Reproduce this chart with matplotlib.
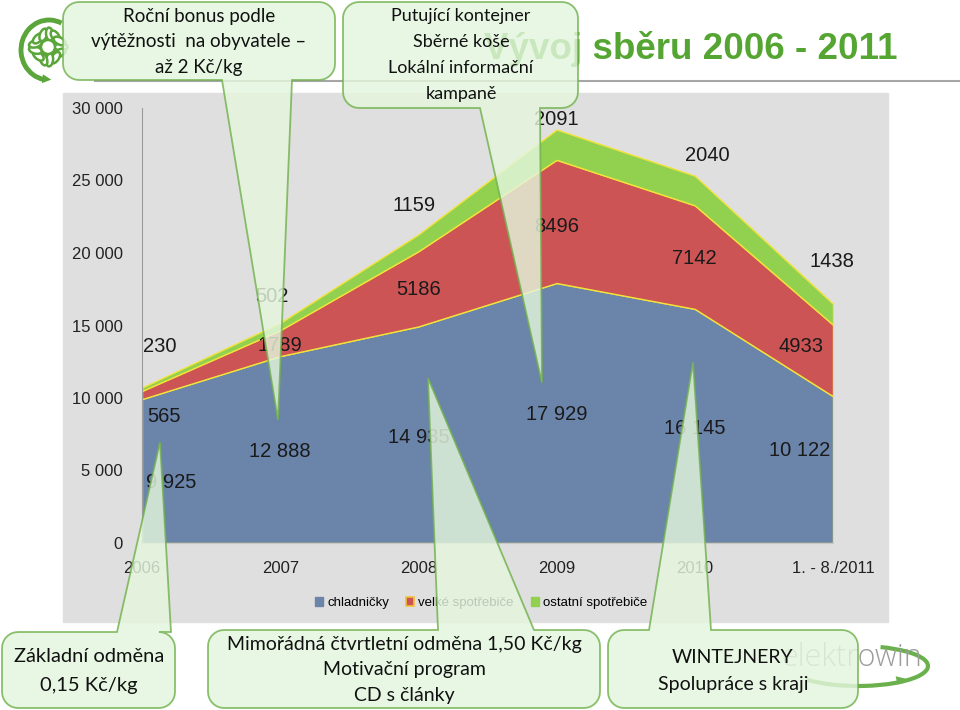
import numpy as np
import matplotlib.pyplot as plt
from matplotlib.patches import Polygon, Rectangle, Patch, Ellipse, Circle, Arc, FancyArrowPatch

# data
years = ['2006', '2007', '2008', '2009', '2010', '1. - 8./2011']
chladnicky = [9925, 12888, 14935, 17929, 16145, 10122]
velke = [565, 1789, 5186, 8496, 7142, 4933]
ostatni = [230, 502, 1159, 2091, 2040, 1438]
series_names = ['chladničky', 'velké spotřebiče', 'ostatní spotřebiče']
colors = ['#6a84aa', '#cd5454', '#92d050']

# where the data labels sit (x index, y value)
lab_x = [[0.21, 1.0, 2.0, 3.0, 4.0, 4.76],
         [0.16, 1.0, 2.0, 3.0, 4.0, 4.77],
         [0.13, 0.94, 1.97, 3.0, 4.09, 4.99]]
lab_y = [[4200, 6280, 7310, 8830, 7930, 6410],
         [8690, 13650, 17450, 21860, 19650, 13520],
         [13520, 16970, 23310, 29240, 26690, 19380]]

W, H = 960, 710
fig = plt.figure(figsize=(W / 100, H / 100), dpi=100)
fig.patch.set_facecolor('white')


def px_axes(z):
    a = fig.add_axes([0, 0, 1, 1], zorder=z)
    a.set_xlim(0, W)
    a.set_ylim(H, 0)
    a.axis('off')
    a.patch.set_alpha(0)
    return a


# background: grey panel, title, logos
bg = px_axes(0)
bg.add_patch(Rectangle((63, 93), 825, 529, color='#dfdfdf', zorder=0))
bg.plot([95, 960], [81, 81], color='#a6a6a6', lw=1.5)
bg.text(484, 49, 'Vývoj sběru 2006 - 2011', ha='left', va='center',
        fontsize=26.5, fontweight='bold', color='#55a532', family='Liberation Sans')

# sunflower logo
green = '#5aa63a'
cx, cy = 48, 47
for k in range(13):
    t = k * 360 / 13
    tr = np.deg2rad(t)
    bg.add_patch(Ellipse((cx + 13 * np.cos(tr), cy + 13 * np.sin(tr)), 13, 7,
                         angle=-t, fc='white', ec=green, lw=1.8))
bg.add_patch(Circle((cx, cy), 7, fc='white', ec=green, lw=1.8))
bg.add_patch(Arc((cx + 1, cy + 3), 56, 60, theta1=100, theta2=295, color=green, lw=3.5))
bg.add_patch(FancyArrowPatch((36, 78), (54, 80), arrowstyle='-|>', mutation_scale=16,
                             color=green, lw=0))

# elektrowin logo
bg.text(852, 658, 'elektrowin', ha='center', va='center', fontsize=22,
        color='#9c9c9c', family='Open Sans', fontweight='light')
bg.add_patch(Arc((858, 666), 140, 40, theta1=-40, theta2=165, color='#6ab04c', lw=3))
bg.add_patch(FancyArrowPatch((886, 683), (908, 678), arrowstyle='-|>', mutation_scale=16,
                             color='#6ab04c', lw=0))

# chart
ax = fig.add_axes([142 / W, 1 - 543 / H, 691 / W, 435 / H], zorder=1)
ax.patch.set_alpha(0)
x = np.arange(len(years))
ax.stackplot(x, chladnicky, velke, ostatni, colors=colors,
             edgecolor='#f2e33a', linewidth=1.0)
ax.set_xlim(0, len(years) - 1)
ax.set_ylim(0, 30000)
ax.set_yticks(range(0, 30001, 5000))
ax.set_yticklabels([f'{v:,}'.replace(',', ' ') for v in range(0, 30001, 5000)])
ax.set_xticks(x)
ax.set_xticklabels(years)
ax.tick_params(axis='y', length=0, pad=14, labelsize=12, labelcolor='#222222')
ax.tick_params(axis='x', length=0, pad=13, labelsize=12, labelcolor='#222222')
for lab in ax.get_xticklabels() + ax.get_yticklabels():
    lab.set_family('Liberation Sans')
for s in ['top', 'right']:
    ax.spines[s].set_visible(False)
ax.spines['left'].set_color('#9a9a9a')
ax.spines['bottom'].set_color('#c8c8c8')

all_vals = [chladnicky, velke, ostatni]
for i, vals in enumerate(all_vals):
    for j, v in enumerate(vals):
        txt = f'{v:,}'.replace(',', ' ') if i == 0 else str(v)
        ax.text(lab_x[i][j], lab_y[i][j], txt, ha='center', va='center',
                fontsize=14.5, color='#1a1a1a', family='Liberation Sans')

handles = [Patch(fc=colors[0], ec=colors[0]),
           Patch(fc=colors[1], ec='#f2c23a', lw=1.2),
           Patch(fc=colors[2], ec=colors[2])]
ax.legend(handles, series_names, loc='center', bbox_to_anchor=(481 / W, 1 - 603 / H),
          bbox_transform=fig.transFigure, ncol=3, frameon=False,
          handlelength=0.6, handleheight=0.6, handletextpad=0.3, columnspacing=1.3,
          prop={'family': 'Liberation Sans', 'size': 9.5})

# callouts on top
ov = px_axes(3)


def callout(x0, y0, x1, y1, edge, a, b, tip, r=16):
    pts = [(x0 + r, y0)]
    if edge == 'top':
        pts += [(a, y0), tip, (b, y0)]
    for t in np.linspace(-90, 0, 8):
        pts.append((x1 - r + r * np.cos(np.deg2rad(t)), y0 + r + r * np.sin(np.deg2rad(t))))
    for t in np.linspace(0, 90, 8):
        pts.append((x1 - r + r * np.cos(np.deg2rad(t)), y1 - r + r * np.sin(np.deg2rad(t))))
    if edge == 'bottom':
        pts += [(b, y1), tip, (a, y1)]
    for t in np.linspace(90, 180, 8):
        pts.append((x0 + r + r * np.cos(np.deg2rad(t)), y1 - r + r * np.sin(np.deg2rad(t))))
    for t in np.linspace(180, 270, 8):
        pts.append((x0 + r + r * np.cos(np.deg2rad(t)), y0 + r + r * np.sin(np.deg2rad(t))))
    ov.add_patch(Polygon(pts, closed=True, fc='#e4f6dd', ec='#72b14e', lw=1.3, alpha=0.82))


callout(63, 2, 335, 80, 'bottom', 222, 292, (278, 420))
callout(343, 2, 578, 108, 'bottom', 480, 540, (542, 383))
callout(2, 632, 175, 708, 'top', 117, 171, (160, 442))
callout(208, 630, 600, 708, 'top', 438, 534, (428, 378))
callout(608, 630, 858, 708, 'top', 649, 711, (693, 362))

box_font = dict(family='Lato', color='#111111', ha='center', va='center')
ov.text(199, 42, 'Roční bonus podle\nvýtěžnosti  na obyvatele –\naž 2 Kč/kg',
        fontsize=13.5, linespacing=1.6, **box_font)
ov.text(461, 55, 'Putující kontejner\nSběrné koše\nLokální informační\nkampaně',
        fontsize=13, linespacing=1.75, **box_font)
ov.text(89, 671, 'Základní odměna\n0,15 Kč/kg', fontsize=14.5, linespacing=1.85, **box_font)
ov.text(404, 670, 'Mimořádná čtvrtletní odměna 1,50 Kč/kg\nMotivační program\nCD s články',
        fontsize=14, linespacing=1.62, **box_font)
ov.text(733, 671, 'WINTEJNERY\nSpolupráce s kraji', fontsize=14, linespacing=1.75, **box_font)

fig.savefig('out.png', dpi=100)
